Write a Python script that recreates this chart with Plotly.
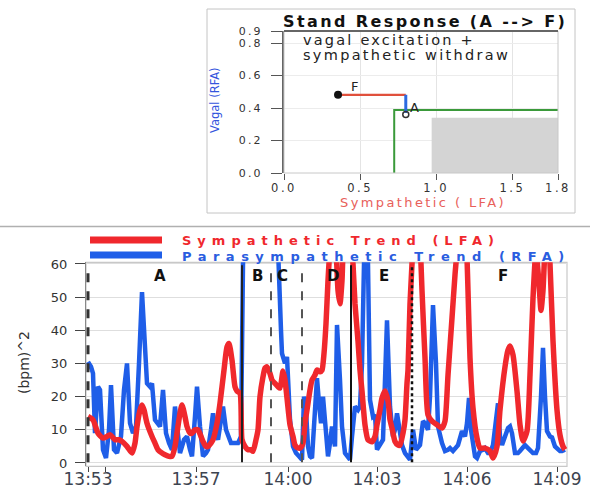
import plotly.graph_objects as go

# ---------------- bottom chart data (elapsed seconds from 13:53) ----------------
rfa_t = [0, 6, 10, 14, 20, 24, 30, 36, 42, 46,
         52, 58, 66, 72, 78, 84, 90, 96, 102, 108,
         114, 118, 124, 128, 134, 140, 144, 150, 156, 162,
         168, 174, 180, 184, 192, 198, 204, 208, 214, 218,
         224, 230, 236, 240, 246, 250, 256, 260, 266, 270,
         276, 280, 286, 294, 300, 306, 310, 316, 344, 374,
         380, 386, 388, 394, 398, 402, 404, 410, 416, 422,
         428, 432, 436, 440, 444, 448, 452, 458, 462, 466,
         470, 474, 480, 484, 488, 494, 498, 504, 508, 514,
         520, 524, 528, 534, 540, 544, 548, 550, 556, 560,
         564, 570, 574, 578, 584, 590, 598, 604, 610, 614,
         618, 624, 628, 634, 640, 644, 650, 656, 664, 670,
         674, 680, 684, 690, 696, 698, 700, 708, 714, 720,
         724, 730, 736, 740, 748, 754, 758, 762, 766, 770,
         774, 778, 784, 790, 794, 800, 804, 810, 816, 820,
         824, 828, 834, 840, 844, 848, 854, 860, 864, 870,
         874, 880, 884, 890, 896, 900, 906, 910, 914, 918,
         924, 928, 934, 938, 944, 948, 954]
rfa_v = [30.5, 29, 27, 9, 23, 22, 4, 1.5, 10, 23.5,
         4, 3, 8, 22, 30, 12, 9, 11, 30, 51.5,
         35, 24, 23, 24, 13, 12, 11, 22, 9, 6,
         4, 17, 8, 3, 7, 8, 4, 2, 14, 23,
         11, 2, 3, 4, 10, 15, 9, 7, 13, 17,
         10, 8, 6, 6, 6, 8, 60, 90, 100, 90,
         60, 40, 33, 30, 32, 20, 13, 5, 3, 2,
         1, 20, 16, 5, 2, 1.5, 10, 25.6, 18, 12,
         20, 13.5, 2, 6, 11, 5, 41.6, 25, 11, 3,
         1.5, 1, 8, 17, 16, 17, 30, 70, 90, 60,
         19, 14, 14.5, 4, 5.4, 7, 43, 17, 8, 10,
         15, 8, 5.4, 3, 1.5, 1, 10, 4, 5.4, 12.6,
         12, 10, 20, 47.6, 30, 23.5, 11, 6, 3.6, 4,
         4.5, 3.6, 5, 5.4, 9.6, 8, 12, 19.6, 10, 5,
         2, 1.5, 3.6, 4, 4.5, 3, 3, 5.4, 12, 18,
         8, 5.4, 8, 10.5, 11, 9, 3, 3, 3.6, 4.5,
         5.4, 4.5, 4, 3, 3, 4.5, 20, 34.7, 20, 9.6,
         8, 7.7, 5, 4.5, 3.6, 3.6, 4]

lfa_t = [0, 10, 20, 30, 38, 44, 54, 62, 68, 78,
         88, 94, 98, 104, 108, 112, 118, 128, 134, 140,
         148, 154, 162, 168, 174, 178, 184, 188, 194, 198,
         204, 208, 214, 220, 226, 230, 236, 240, 246, 250,
         258, 264, 272, 278, 282, 288, 294, 298, 304, 308,
         314, 320, 326, 330, 336, 340, 344, 350, 354, 358,
         364, 368, 374, 380, 384, 390, 394, 398, 404, 410,
         414, 420, 424, 430, 434, 438, 444, 448, 454, 458,
         464, 468, 472, 476, 480, 484, 490, 496, 500, 504,
         508, 512, 520, 526, 530, 534, 540, 544, 548, 554,
         560, 568, 574, 578, 584, 588, 594, 600, 604, 608,
         614, 620, 624, 630, 634, 638, 640, 644, 648, 652,
         660, 666, 668, 674, 680, 688, 698, 708, 714, 720,
         728, 734, 738, 744, 754, 758, 760, 764, 770, 778,
         784, 794, 804, 810, 818, 824, 834, 840, 844, 850,
         858, 864, 870, 878, 884, 890, 896, 902, 906, 910,
         914, 920, 924, 930, 938, 944, 950, 954]
lfa_v = [14, 13, 9, 7.5, 8, 8.5, 7, 7, 6.5, 5,
         3, 6, 11, 16, 17.5, 16, 12, 8, 6, 4,
         3, 2.5, 2, 2, 5, 9, 15, 17.5, 14, 11,
         9, 9, 10, 10, 8, 6.5, 5, 5, 6, 7,
         12, 18, 28, 35, 36, 31, 23, 21.7, 21, 7,
         5, 4, 4, 3.5, 7, 10, 20, 26, 28.6, 29,
         27, 25, 24, 23, 22.6, 27.7, 25, 19.6, 11.5, 8,
         5.4, 4.5, 4.5, 6, 12, 16, 22, 25, 26.5, 28,
         27.5, 28, 33, 42, 55, 65, 75, 65, 52, 48,
         55, 70, 75, 68, 60, 48, 36.8, 28, 21.7, 11.5,
         7, 6.4, 8, 11.5, 16, 19.6, 21.7, 18.7, 13, 10.5,
         6.5, 5.4, 5.4, 9, 13, 24, 28, 48, 60, 75,
         80, 60, 52, 31.7, 14.5, 12.6, 11.5, 10.5, 12.6, 26.5,
         43.7, 56.7, 64, 80, 78, 62, 52, 31.7, 16.6, 7.5,
         4.5, 4.5, 3.6, 1.5, 5, 16, 29, 34, 35.3, 32.6,
         21.7, 11.5, 6.6, 9.6, 26.5, 49.7, 64, 54, 46, 52,
         64, 70, 60, 36.8, 16, 8.4, 5, 4]

seg_bounds = [0, 308, 366, 428, 526, 648]
seg_labels = ["A", "B", "C", "D", "E", "F"]
seg_label_t = [144, 338, 388, 490, 592, 830]
time_tickvals = [0, 34, 216, 400, 578, 758, 938]
time_ticktext = ["13:53", "", "13:57", "14:00", "14:03", "14:06", "14:09"]
power_ticks = [0, 10, 20, 30, 40, 50, 60]

# ---------------- top chart data ----------------
path_lfa = [0.355, 0.80]
path_rfa = [0.482, 0.482]
step_lfa = [0.80, 0.80]
step_rfa = [0.482, 0.37]
norm_lfa = [0.724, 0.724, 1.8]
norm_rfa = [0.0, 0.388, 0.388]
zone_lfa = [0.97, 1.8, 1.8, 0.97, 0.97]
zone_rfa = [0.0, 0.0, 0.34, 0.34, 0.0]
start_pt = (0.80, 0.36)
end_pt = (0.355, 0.482)
top_xticks = [0.0, 0.5, 1.0, 1.5, 1.8]
top_yticks = [0.0, 0.2, 0.4, 0.6, 0.8, 0.874]
top_yticktext = ["0.0", "0.2", "0.4", "0.6", "0.8", "0.9"]

W, H = 590, 490
def px(x):
    return x / W
def py(y):
    return 1 - y / H
def ls(text, sp):
    return '<span style="letter-spacing:%spx">%s</span>' % (sp, text)

FONT = "DejaVu Sans"
fig = go.Figure()

# top panel traces
fig.add_trace(go.Scatter(x=zone_lfa, y=zone_rfa, fill="toself", fillcolor="#d4d4d4",
                         line=dict(width=0), mode="lines", xaxis="x", yaxis="y", hoverinfo="skip"))
fig.add_trace(go.Scatter(x=norm_lfa, y=norm_rfa, mode="lines",
                         line=dict(color="#3a9a3a", width=2), xaxis="x", yaxis="y"))
fig.add_trace(go.Scatter(x=path_lfa, y=path_rfa, mode="lines",
                         line=dict(color="#e0503c", width=2.2), xaxis="x", yaxis="y"))
fig.add_trace(go.Scatter(x=step_lfa, y=step_rfa, mode="lines",
                         line=dict(color="#2c6ae0", width=3), xaxis="x", yaxis="y"))
fig.add_trace(go.Scatter(x=[end_pt[0]], y=[end_pt[1]], mode="markers",
                         marker=dict(color="#111", size=8), xaxis="x", yaxis="y"))
fig.add_trace(go.Scatter(x=[start_pt[0]], y=[start_pt[1]], mode="markers",
                         marker=dict(color="#333", size=6, symbol="circle-open", line=dict(width=1.5)),
                         xaxis="x", yaxis="y"))

# bottom panel traces
fig.add_trace(go.Scatter(x=rfa_t, y=rfa_v, mode="lines", name="Parasympathetic Trend (RFA)",
                         line=dict(color="#1f5ee8", width=4.5), xaxis="x2", yaxis="y2"))
fig.add_trace(go.Scatter(x=lfa_t, y=lfa_v, mode="lines", name="Sympathetic Trend (LFA)",
                         line=dict(color="#f0282d", width=5.5, shape="spline", smoothing=0.6),
                         xaxis="x2", yaxis="y2"))

shapes = []
shapes.append(dict(type="rect", xref="paper", yref="paper", x0=px(207), x1=px(575),
                   y0=py(213), y1=py(9), line=dict(color="#c4c4c4", width=1)))
shapes.append(dict(type="line", xref="paper", yref="paper", x0=0, x1=1, y0=py(226.5), y1=py(226.5),
                   line=dict(color="#b0b0b0", width=1.5)))
shapes.append(dict(type="rect", xref="x domain", yref="y domain", x0=0, x1=1, y0=0, y1=1,
                   line=dict(color="#c8c8c8", width=1)))
shapes.append(dict(type="line", xref="x domain", yref="y domain", x0=0, x1=1, y0=1, y1=1,
                   line=dict(color="#666", width=2)))
shapes.append(dict(type="rect", xref="x2 domain", yref="y2 domain", x0=0, x1=1, y0=0, y1=1,
                   line=dict(color="#c8c8c8", width=1.2), layer="below"))
shapes.append(dict(type="line", xref="paper", yref="paper", x0=px(90), x1=px(162), y0=py(240), y1=py(240),
                   line=dict(color="#f0282d", width=7)))
shapes.append(dict(type="line", xref="paper", yref="paper", x0=px(90), x1=px(162), y0=py(255), y1=py(255),
                   line=dict(color="#1f5ee8", width=7)))
seg_styles = [dict(color="#333", width=3, dash="dash"),
              dict(color="#222", width=2, dash="solid"),
              dict(color="#555", width=2, dash="dash"),
              dict(color="#555", width=2, dash="dash"),
              dict(color="#111", width=2, dash="solid"),
              dict(color="#111", width=2.5, dash="dot")]
for t, st in zip(seg_bounds, seg_styles):
    shapes.append(dict(type="line", xref="x2", yref="y2 domain", x0=t, x1=t, y0=0.02, y1=0.985,
                       line=st, layer="above"))

def note(text, x, y, size, color, xanchor="center", angle=0, xref="paper", yref="paper"):
    if xref == "paper":
        x = px(x)
    if yref == "paper":
        y = py(y)
    return dict(xref=xref, yref=yref, x=x, y=y, xanchor=xanchor, yanchor="middle", showarrow=False,
                text=text, textangle=angle, font=dict(family=FONT, size=size, color=color))

annotations = [
    note("<b>" + ls("Stand Response (A --&gt; F)", 2.4) + "</b>", 425, 22, 16, "#111"),
    note(ls("vagal excitation +", 2.2), 301, 40, 14.5, "#222", "left"),
    note(ls("sympathetic withdraw", 2.3), 301, 55, 14.5, "#222", "left"),
    note("F", 0.46, 0.53, 13, "#222", xref="x", yref="y"),
    note("A", 0.86, 0.405, 13, "#222", xref="x", yref="y"),
    note(ls("Sympathetic ( LFA)", 2.4), 423, 202.5, 13, "#e8605a"),
    note("Vagal (RFA)", 215, 100, 11.5, "#3355dd", angle=-90),
    note("(bpm)^2", 24, 363, 14, "#333", angle=-90),
    note("<b>" + ls("Sympathetic Trend (LFA)", 6.0) + "</b>", 180, 240, 13, "#f0282d", "left"),
    note("<b>" + ls("Parasympathetic Trend (RFA)", 6.5) + "</b>", 180, 256, 13, "#2a5de0", "left"),
]
for lab, t in zip(seg_labels, seg_label_t):
    annotations.append(note("<b>" + lab + "</b>", t, 56.5, 15, "#111", xref="x2", yref="y2"))

fig.update_layout(
    width=W, height=H, margin=dict(l=0, r=0, t=0, b=0, autoexpand=False),
    paper_bgcolor="white", plot_bgcolor="white", showlegend=False,
    shapes=shapes, annotations=annotations,
    font=dict(family=FONT, color="#333"),
    xaxis=dict(domain=[px(284), px(558)], range=[0, 1.8], tickvals=top_xticks,
               ticktext=[ls("%.1f" % v, 2.5) for v in top_xticks], automargin=False,
               tickfont=dict(size=11.5, color="#333"), ticks="outside", ticklen=6, tickcolor="#555",
               ticklabelstandoff=-2,
               showgrid=True, gridcolor="#e4e4e4", zeroline=False, showline=False),
    yaxis=dict(domain=[py(173), py(31)], range=[0, 0.875], tickvals=top_yticks,
               ticktext=[ls(t, 2.2) for t in top_yticktext], automargin=False,
               tickfont=dict(size=11, color="#333"), ticks="outside", ticklen=11, tickcolor="#555",
               ticklabelstandoff=6,
               showgrid=True, gridcolor="#ececec", zeroline=False, showline=True, linecolor="#666", linewidth=2),
    xaxis2=dict(domain=[px(86), px(567)], range=[-4, 958], tickvals=time_tickvals, ticktext=time_ticktext,
                tickfont=dict(size=17, color="#3d4450"), ticks="outside", ticklen=5, tickcolor="#444",
                ticklabelstandoff=-8,
                showgrid=False, zeroline=False, showline=False, anchor="y2", automargin=False),
    yaxis2=dict(domain=[py(466.3), py(262.3)], range=[-1, 60.5], tickvals=power_ticks,
                tickfont=dict(size=13, color="#333"), ticks="outside", ticklen=10, tickcolor="#444",
                ticklabelstandoff=5,
                showgrid=True, gridcolor="#dedede", zeroline=False, showline=True, linecolor="#888", linewidth=1,
                anchor="x2", automargin=False),
)

fig.write_html("out.html")
